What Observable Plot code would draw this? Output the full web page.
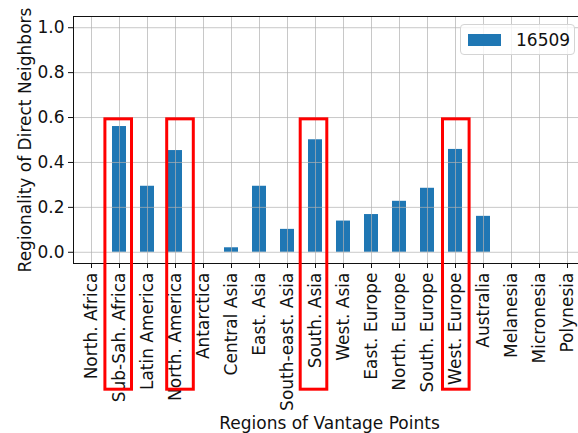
<!DOCTYPE html>
<html>
<head>
<meta charset="utf-8">
<script src="https://cdn.jsdelivr.net/npm/d3@7"></script>
<script src="https://cdn.jsdelivr.net/npm/@observablehq/plot@0.6"></script>
<style>
  html, body { margin: 0; padding: 0; overflow: hidden; background: #fff; }
  #chart { position: relative; width: 578px; height: 433px; overflow: hidden; font-family: "DejaVu Sans", sans-serif; }
  #chart svg { position: absolute; left: 0; top: 0; max-width: none !important; width: 586px !important; height: 433px !important; }
  .legend {
    position: absolute; left: 460px; top: 24px; width: 115px; height: 31px;
    box-sizing: border-box; border: 1px solid #d4d4d4; border-radius: 4px;
    background: rgba(255, 255, 255, 0.8); display: flex; align-items: center;
  }
  .legend .swatch { width: 33px; height: 12px; background: #1f77b4; margin-left: 7px; }
  .legend .name { margin-left: 15px; font-size: 17px; color: #111; }
</style>
</head>
<body>
<div id="chart"></div>
<script>
// Regions (x axis), in display order
const categories = [
  "North. Africa", "Sub-Sah. Africa", "Latin America", "North. America",
  "Antarctica", "Central Asia", "East. Asia", "South-east. Asia",
  "South. Asia", "West. Asia", "East. Europe", "North. Europe",
  "South. Europe", "West. Europe", "Australia", "Melanesia",
  "Micronesia", "Polynesia"
];

// Regionality of direct neighbors per region
const values = [
  0, 0.56, 0.294, 0.453,
  0, 0.02, 0.294, 0.102,
  0.501, 0.139, 0.168, 0.227,
  0.285, 0.458, 0.16, 0,
  0, 0
];

const seriesName = "16509";
const yTicks = [0, 0.2, 0.4, 0.6, 0.8, 1.0];

// Regions called out with a red box
const highlighted = ["Sub-Sah. Africa", "North. America", "South. Asia", "West. Europe"];

const xLabel = "Regions of Vantage Points";
const yLabel = "Regionality of Direct Neighbors";

const rows = categories.map((region, i) => ({region, value: values[i]}));

// Hand-drawn callout boxes: vertical extent and small horizontal nudges
const boxTop = 0.592;
const boxBottom = -0.612;
const boxNudge = {"Sub-Sah. Africa": -0.8, "North. America": 5, "South. Asia": -1.5, "West. Europe": 0.8};

const gridStyle = {stroke: "#b0b0b0", strokeOpacity: 0.7, strokeWidth: 1};
const fontSize = 17;

const chart = Plot.plot({
  width: 586,
  height: 433,
  marginLeft: 73,
  marginRight: 1,
  marginTop: 16,
  marginBottom: 170,
  style: {fontFamily: "DejaVu Sans, sans-serif", fontSize: `${fontSize}px`, color: "#111", background: "transparent", overflow: "visible"},
  x: {type: "band", domain: categories, paddingInner: 0.5, paddingOuter: 0.25},
  y: {domain: [-0.05, 1.05]},
  marks: [
    Plot.barY(rows, {x: "region", y1: 0, y2: "value", fill: "#1f77b4"}),
    Plot.gridX(categories, gridStyle),
    Plot.gridY(yTicks, gridStyle),
    Plot.frame({stroke: "#111", strokeWidth: 1}),
    Plot.axisY(yTicks, {tickFormat: d3.format(".1f"), tickSize: 5, tickPadding: 4, label: null, stroke: "#111"}),
    Plot.axisX({tickRotate: -90, tickSize: 5, tickPadding: 4, label: null, stroke: "#111"}),
    Plot.text([xLabel], {frameAnchor: "bottom", dy: 165, lineAnchor: "bottom", fontSize, fill: "#111"}),
    Plot.text([yLabel], {frameAnchor: "left", dx: -43, rotate: -90, textAnchor: "middle", lineAnchor: "bottom", fontSize, fill: "#111"}),
    ...highlighted.map(region => Plot.barY([{region}], {
      x: "region", y1: boxBottom, y2: boxTop,
      fill: "none", stroke: "#ff0000", strokeWidth: 3,
      insetLeft: -6.3, insetRight: -6.3, dx: boxNudge[region]
    }))
  ]
});

const root = document.getElementById("chart");
root.appendChild(chart);

const legend = document.createElement("div");
legend.className = "legend";
legend.innerHTML = `<div class="swatch"></div><div class="name"></div>`;
legend.querySelector(".name").textContent = seriesName;
root.appendChild(legend);
</script>
</body>
</html>
